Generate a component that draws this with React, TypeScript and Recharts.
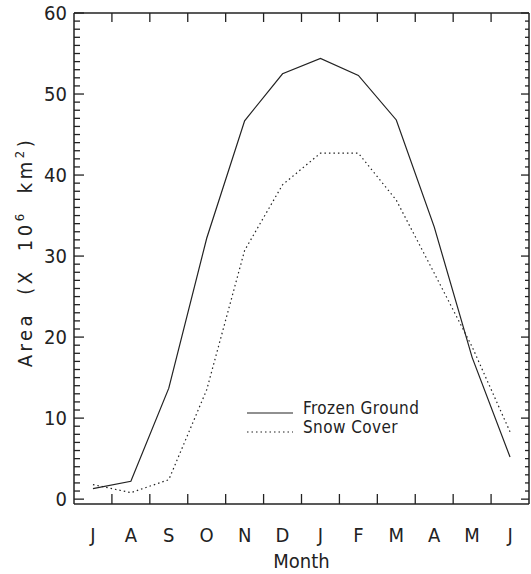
import React from 'react'
import { LineChart, Line, XAxis, YAxis, Legend } from 'recharts';

const months = ['J', 'A', 'S', 'O', 'N', 'D', 'J', 'F', 'M', 'A', 'M', 'J'];
const frozenGround = [1.3, 2.2, 13.7, 32.2, 46.7, 52.5, 54.4, 52.3, 46.8, 33.6, 17.5, 5.2];
const snowCover = [1.8, 0.8, 2.4, 13.5, 30.7, 38.8, 42.7, 42.7, 36.9, 27.9, 18.8, 8.3];
const yTickLabels = [0, 10, 20, 30, 40, 50, 60];

const data = months.map((month, i) => ({
  x: i + 0.5,
  month,
  frozen: frozenGround[i],
  snow: snowCover[i],
}));

// month labels sit on the half positions, tick marks on the whole ones
const xTicks = months.flatMap((_, i) => (i === 0 ? [0.5] : [i, i + 0.5]));
const yTicks = Array.from({ length: 61 }, (_, i) => i);

const font = "'DejaVu Sans Condensed', 'DejaVu Sans', sans-serif";
const ink = '#222';
const plotWidth = 455;

const BottomTick = (props: any) => {
  const { x, y, payload } = props;
  const v = payload.value;
  if (Number.isInteger(v)) {
    return <line x1={x} y1={y} x2={x} y2={y - 10} stroke={ink} strokeWidth={1.3} />;
  }
  const month = months[Math.floor(v)];
  return (
    <text x={x} y={y + 38} textAnchor="middle" fontFamily={font} fontSize={20} fill={ink}>
      {month}
    </text>
  );
};

const TopTick = (props: any) => {
  const { x, y, payload } = props;
  if (!Number.isInteger(payload.value)) return <g />;
  return <line x1={x} y1={y} x2={x} y2={y + 9} stroke={ink} strokeWidth={1.3} />;
};

// left tick + label, plus the matching tick on the right frame
const LeftTick = (props: any) => {
  const { x, y, payload } = props;
  const v = payload.value;
  const major = yTickLabels.includes(v);
  const xr = x + plotWidth;
  return (
    <g>
      <line x1={x} y1={y} x2={x + (major ? 10 : 6)} y2={y} stroke={ink} strokeWidth={1.3} />
      <line x1={xr} y1={y} x2={xr - (major ? 8 : 4)} y2={y} stroke={ink} strokeWidth={1.3} />
      {major && (
        <text x={x - 7} y={y + 7} textAnchor="end" fontFamily={font} fontSize={20} fill={ink}>
          {v}
        </text>
      )}
    </g>
  );
};

const YLabel = () => (
  <text
    x={32}
    y={252}
    transform="rotate(-90 32 252)"
    textAnchor="middle"
    fontFamily={font}
    fontSize={20}
    fill={ink}
    style={{ wordSpacing: 8, letterSpacing: 3.5 }}
  >
    Area (X 10
    <tspan dy={-8} fontSize={13}>6</tspan>
    <tspan dy={8}> km</tspan>
    <tspan dy={-8} fontSize={13}>2</tspan>
    <tspan dy={8}>)</tspan>
  </text>
);

const LegendBox = () => (
  <svg width={200} height={50} style={{ display: 'block' }}>
    <line x1={7} y1={23} x2={53} y2={23} stroke={ink} strokeWidth={1.2} />
    <text x={63} y={24} fontFamily={font} fontSize={17} fill={ink} letterSpacing={0.4}>Frozen Ground</text>
    <line x1={7} y1={42} x2={53} y2={42} stroke={ink} strokeWidth={1.2} strokeDasharray="1.5 3" />
    <text x={63} y={43} fontFamily={font} fontSize={17} fill={ink} letterSpacing={0.4}>Snow Cover</text>
  </svg>
);

const App: React.FC = () => {
  return (
    <div style={{ position: 'absolute', left: 0, top: 0, width: 531, height: 574 }}>
      <LineChart
        width={531}
        height={574}
        data={data}
        margin={{ top: 12, right: 1, left: 73, bottom: 69 }}
      >
        <XAxis
          xAxisId="b"
          dataKey="x"
          type="number"
          domain={[0, 12]}
          ticks={xTicks}
          interval={0}
          height={1}
          tickSize={0}
          tickMargin={0}
          tickLine={false}
          tick={<BottomTick />}
          axisLine={{ stroke: ink, strokeWidth: 1.5 }}
          label={{ value: 'Month', position: 'bottom', offset: 49, fontFamily: font, fontSize: 20, fill: ink }}
        />
        <XAxis
          xAxisId="t"
          orientation="top"
          dataKey="x"
          type="number"
          domain={[0, 12]}
          ticks={xTicks}
          interval={0}
          height={1}
          tickSize={0}
          tickMargin={0}
          tickLine={false}
          tick={<TopTick />}
          axisLine={{ stroke: ink, strokeWidth: 1.5 }}
        />
        <YAxis
          yAxisId="l"
          type="number"
          domain={[-0.6, 60]}
          ticks={yTicks}
          interval={0}
          width={1}
          tickSize={0}
          tickMargin={0}
          tickLine={false}
          tick={<LeftTick />}
          axisLine={{ stroke: ink, strokeWidth: 1.5 }}
          label={<YLabel />}
        />
        <YAxis
          yAxisId="r"
          orientation="right"
          type="number"
          domain={[-0.6, 60]}
          width={1}
          tick={false}
          tickLine={false}
          axisLine={{ stroke: ink, strokeWidth: 1.5 }}
        />
        <Legend
          layout="horizontal"
          verticalAlign="middle"
          align="center"
          wrapperStyle={{ left: 240, top: 390, width: 200 }}
          content={<LegendBox />}
        />
        <Line
          xAxisId="b"
          yAxisId="l"
          type="linear"
          dataKey="frozen"
          name="Frozen Ground"
          stroke={ink}
          strokeWidth={1.2}
          dot={false}
          isAnimationActive={false}
        />
        <Line
          xAxisId="b"
          yAxisId="l"
          type="linear"
          dataKey="snow"
          name="Snow Cover"
          stroke={ink}
          strokeWidth={1.2}
          strokeDasharray="1.5 3"
          dot={false}
          isAnimationActive={false}
        />
      </LineChart>
    </div>
  )
}

export default App
